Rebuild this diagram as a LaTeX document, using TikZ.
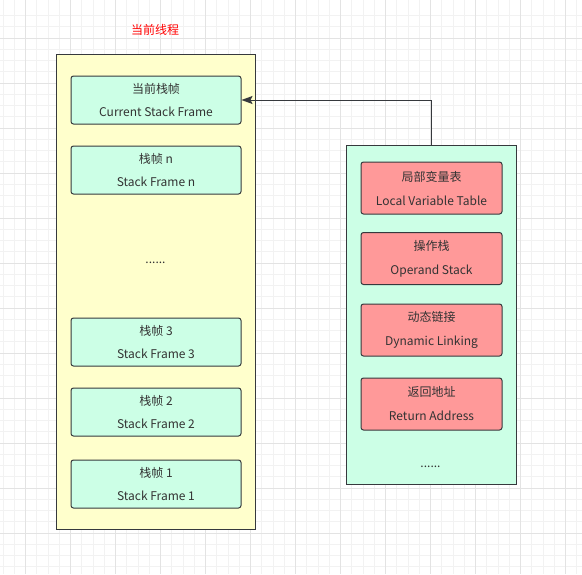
\documentclass[tikz,border=0pt]{standalone}
\usepackage{fontspec}
\usepackage{xcolor}
\newfontfamily\cjk{Noto Sans CJK SC}
\usetikzlibrary{arrows.meta, positioning}
\definecolor{threadfill}{HTML}{FFFFCC}
\definecolor{framefill}{HTML}{CCFFE6}
\definecolor{partfill}{HTML}{FF9999}
\definecolor{edge}{HTML}{36393D}
\definecolor{txt}{HTML}{333333}
\definecolor{gridminor}{HTML}{F2F2F2}
\definecolor{gridmajor}{HTML}{E3E3E3}
\tikzstyle{thread} = [rectangle, draw=edge, line width=1pt, fill=threadfill, minimum width=199pt, minimum height=475pt, anchor=north west]
\tikzstyle{frame} = [rectangle, rounded corners=2.5pt, draw=edge, line width=1pt, fill=framefill, minimum width=170pt, minimum height=48pt, align=center, text=txt, font=\cjk\fontsize{12}{23}\selectfont, anchor=north west]
\tikzstyle{part} = [rectangle, rounded corners=2.5pt, draw=edge, line width=1pt, fill=partfill, minimum width=141pt, minimum height=52pt, align=center, text=txt, font=\cjk\fontsize{12}{24}\selectfont, anchor=north west]
\tikzstyle{dots} = [text=txt, font=\cjk\fontsize{12}{14}\selectfont]
\tikzstyle{arrow} = [line width=1pt, draw=edge, -{Stealth[length=11pt, width=8pt, inset=2pt]}]

\begin{document}
\begin{tikzpicture}[x=1pt, y=-1pt, node distance=21pt]
    \useasboundingbox (0,0) rectangle (582,574);
    % background grid
    \begin{scope}
        \clip (0,0) rectangle (582,574);
        \fill[white] (0,0) rectangle (582,574);
        \foreach \i in {-2,...,49} {
            \draw[gridminor, line width=0.8pt] (25.5+11.25*\i,0) -- (25.5+11.25*\i,574);
            \draw[gridminor, line width=0.8pt] (0,38+11.25*\i) -- (582,38+11.25*\i);
        }
        \foreach \i in {-1,...,12} {
            \draw[gridmajor, line width=0.8pt] (25.5+45*\i,0) -- (25.5+45*\i,574);
            \draw[gridmajor, line width=0.8pt] (0,38+45*\i) -- (582,38+45*\i);
        }
    \end{scope}

    % current thread
    \node (title) [text=red, font=\cjk\fontsize{12}{14}\selectfont] at (155,30) {当前线程};
    \node (thread) [thread] at (56,54) {};
    \node (cur) [frame] at (70.5,75.5) {当前栈帧\\Current Stack Frame};
    \node (fn) [frame, below=of cur] {栈帧 n\\Stack Frame n};
    \node (gap) [dots] at (155.5,263) {......};
    \node (f3) [frame] at (70.5,317.5) {栈帧 3\\Stack Frame 3};
    \node (f2) [frame, below=of f3] {栈帧 2\\Stack Frame 2};
    \node (f1) [frame] at (70.5,459.5) {栈帧 1\\Stack Frame 1};

    % frame content
    \node (detail) [thread, fill=framefill, minimum width=170.5pt, minimum height=339pt] at (345.5,144.5) {};
    \node (locals) [part] at (360.5,161.5) {局部变量表\\Local Variable Table};
    \node (operand) [part] at (360.5,232) {操作栈\\Operand Stack};
    \node (link) [part] at (360.5,303.5) {动态链接\\Dynamic Linking};
    \node (ret) [part] at (360.5,377.5) {返回地址\\Return Address};
    \node (more) [dots] at (430.5,467) {......};

    \draw [arrow] (detail.north) |- (cur.east);
\end{tikzpicture}
\end{document}
